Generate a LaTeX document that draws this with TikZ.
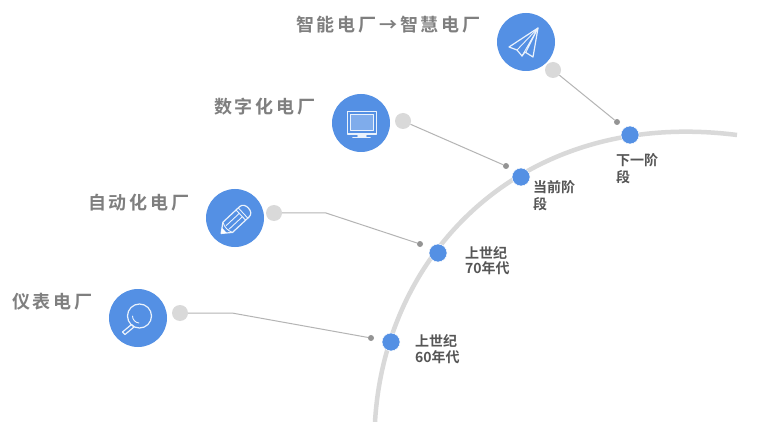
\documentclass[tikz,border=0pt]{standalone}
\usepackage{fontspec}
\setmainfont{Liberation Sans}
\newfontfamily\cjkhead[LetterSpace=15.5]{Noto Sans CJK SC Bold}
\newfontfamily\cjklabel{Noto Sans CJK SC Bold}
\definecolor{blueball}{HTML}{5490E4}
\definecolor{arcgray}{HTML}{D9D9D9}
\definecolor{linegray}{HTML}{B4B4B4}
\definecolor{headgray}{HTML}{7F7F7F}
\definecolor{labelgray}{HTML}{565656}
\tikzset{
  iconball/.style={circle,fill=blueball,draw=none,minimum size=58pt,inner sep=0},
  graydot/.style={circle,fill=arcgray,draw=none,minimum size=16pt,inner sep=0},
  tinydot/.style={circle,fill=black!42,draw=none,minimum size=6pt,inner sep=0},
  stagedot/.style={circle,fill=blueball,draw=white,line width=.5pt,minimum size=18pt,inner sep=0},
  wire/.style={draw=linegray,line width=1pt},
  headtext/.style={font=\cjkhead\fontsize{18pt}{20pt}\selectfont,text=headgray,anchor=west,inner sep=0},
  stagetext/.style={font=\cjklabel\fontsize{14pt}{17pt}\selectfont,text=labelgray,anchor=north west,inner sep=0,align=left},
  icon/.style={draw=white!88!blueball,line width=1.2pt,line join=round,line cap=round}
}
\begin{document}
\begin{tikzpicture}[x=1pt,y=-1pt]
\useasboundingbox[fill=white] (0,0) rectangle (768,422);
% main arc
\draw[arcgray,line width=4.5pt] (375,422) .. controls (385,250) and (525,108) .. (737,135);
% icon balls
\node[iconball] (ballA) at (526,42) {};
\node[iconball] (ballB) at (361,123) {};
\node[iconball] (ballC) at (235,218) {};
\node[iconball] (ballD) at (138,318) {};
% gray dots
\node[graydot] (grayA) at (553,70) {};
\node[graydot] (grayB) at (403,121) {};
\node[graydot] (grayC) at (274,213) {};
\node[graydot] (grayD) at (180,313) {};
% tiny dots
\node[tinydot] (tinyA) at (617,122) {};
\node[tinydot] (tinyB) at (506,166) {};
\node[tinydot] (tinyC) at (420,244) {};
\node[tinydot] (tinyD) at (371,338) {};
% stage dots
\node[stagedot] (stageA) at (630,135) {};
\node[stagedot] (stageB) at (521,177) {};
\node[stagedot] (stageC) at (438,253) {};
\node[stagedot] (stageD) at (391,342) {};
% connectors
\coordinate (bendC) at (326,213);
\coordinate (bendD) at (232,313);
\draw[wire] (grayA) -- (tinyA);
\draw[wire] (grayB) -- (tinyB);
\draw[wire] (grayC) -- (bendC) -- (tinyC);
\draw[wire] (grayD) -- (bendD) -- (tinyD);
% headings
\node[headtext] (headA) at (296,25) {智能电厂→智慧电厂};
\node[headtext] (headB) at (214,107) {数字化电厂};
\node[headtext] (headC) at (88,203) {自动化电厂};
\node[headtext] (headD) at (12,302) {仪表电厂};
% stage labels
\node[stagetext] (textA) at (616,153.5) {下一阶\\段};
\node[stagetext] (textB) at (533,180.5) {当前阶\\段};
\node[stagetext] (textC) at (465,246) {上世纪\\[-2pt]70年代};
\node[stagetext] (textD) at (415,334) {上世纪\\[-1pt]60年代};
% plane icon
\draw[icon] (538,28) -- (509,47) -- (517,50) -- (522,56) -- (525,52) -- (533,57) -- cycle;
\draw[icon,line width=.9pt] (538,28) -- (517,50) (538,28) -- (522,56) (538,28) -- (526,52);
% monitor icon
\draw[icon] (347.5,111.5) rectangle (376.5,134);
\draw[icon,line width=.9pt,fill=white!25!blueball] (350.5,114.5) rectangle (373.5,130.5);
\draw[icon,line width=1.6pt] (358,136) -- (366,136) (353,137.5) -- (370,137.5);
% pencil icon
\begin{scope}[shift={(235,220.5)},rotate=43]
\draw[icon] (-19,0) -- (-10,-7) -- (13,-7) to[out=0,in=0,looseness=1.3] (13,7) -- (-10,7) -- cycle;
\draw[icon,line width=.9pt] (-10,-7) to[bend right=25] (-10,7) (8,-7) -- (8,7) (11,-7) -- (11,7) (-10,-2.3) -- (8,-2.3) (-10,2.3) -- (8,2.3);
\fill[white] (-19,0) -- (-14.5,-3.5) -- (-14.5,3.5) -- cycle;
\end{scope}
% magnifier icon
\draw[icon] (139.5,316) circle (12);
\draw[icon,line width=.9pt] (132.5,316) arc (180:95:7);
\draw[icon] (131.5,324.5) -- (134,327) -- (125,334.5) -- (122.5,332) -- cycle;
\end{tikzpicture}
\end{document}
